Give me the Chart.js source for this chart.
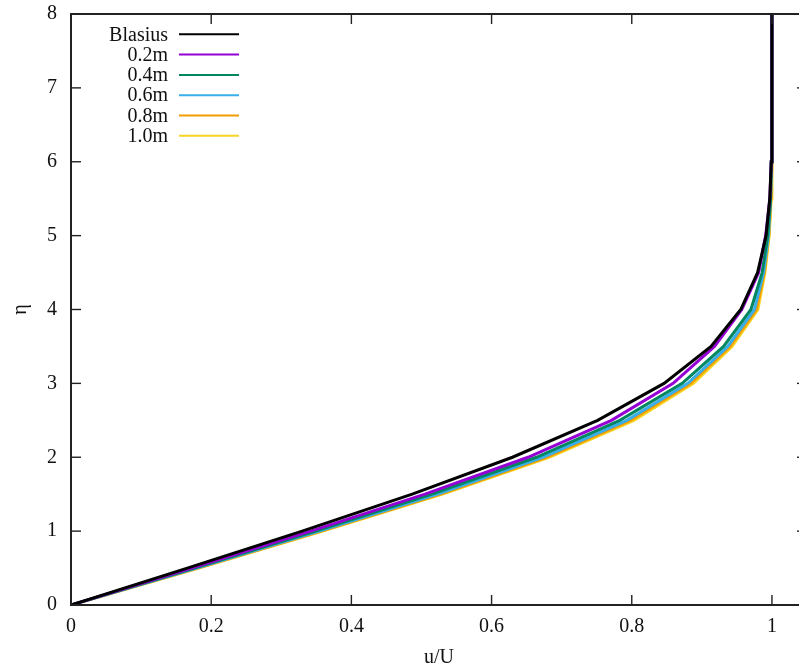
<!DOCTYPE html>
<html>
<head>
<meta charset="utf-8">
<script src="https://cdn.jsdelivr.net/npm/chart.js@4"></script>
<style>
  html, body { margin:0; padding:0; background:#fff; overflow:hidden; }
  #wrap { position:relative; width:812px; height:670px; }
</style>
</head>
<body>
<div id="wrap"><canvas id="profile"></canvas></div>
<script>
// similarity coordinate
const eta = [0, 0.5, 1, 1.5, 2, 2.5, 3, 3.5, 4, 4.5, 5, 5.5, 6, 6.5, 7, 7.5, 8];

// u/U profiles
const blasius = [0, 0.1659, 0.3298, 0.4868, 0.6298, 0.7513, 0.8461, 0.9131, 0.9555, 0.9795, 0.9916, 0.9969, 0.9990, 0.9997, 0.9999, 1.0, 1.0];
const u02 = [0, 0.172, 0.342, 0.505, 0.652, 0.771, 0.859, 0.918, 0.957, 0.981, 0.991, 0.997, 0.999, 1.0, 1.0, 1.0, 1.0];
const u04 = [0, 0.176, 0.349, 0.515, 0.664, 0.783, 0.872, 0.931, 0.970, 0.986, 0.994, 0.998, 0.999, 1.0, 1.0, 1.0, 1.0];
const u06 = [0, 0.179, 0.354, 0.523, 0.673, 0.793, 0.880, 0.937, 0.975, 0.988, 0.995, 0.998, 0.9995, 1.0, 1.0, 1.0, 1.0];
const u08 = [0, 0.181, 0.357, 0.527, 0.678, 0.798, 0.884, 0.940, 0.978, 0.989, 0.9955, 0.9985, 1.0, 1.0, 1.0, 1.0, 1.0];
const u10 = [0, 0.182, 0.359, 0.530, 0.682, 0.803, 0.888, 0.943, 0.980, 0.990, 0.996, 0.999, 1.0, 1.0, 1.0, 1.0, 1.0];

const seriesNames = ['Blasius', '0.2m', '0.4m', '0.6m', '0.8m', '1.0m'];
const seriesData = [blasius, u02, u04, u06, u08, u10];
const seriesColors = ['#000000', '#9400d3', '#00875f', '#38aeea', '#f39c00', '#f8d524'];

const xTicks = [0, 0.2, 0.4, 0.6, 0.8, 1];
const yTicks = [0, 1, 2, 3, 4, 5, 6, 7, 8];

const FONT = "'Liberation Serif', 'Times New Roman', serif";

const datasets = seriesData.map((arr, i) => ({
  label: seriesNames[i],
  data: arr.map((u, k) => ({x: u, y: eta[k]})),
  borderColor: seriesColors[i],
  borderWidth: 3,
  pointRadius: 0,
  tension: 0,
  fill: false
}));

// gnuplot style frame with inward ticks on all four sides, plus key
const framePlugin = {
  id: 'frame',
  afterDraw(chart){
    const {ctx, scales} = chart;
    // frame edges from the scales themselves
    const top = Math.round(scales.y.getPixelForValue(8));
    const bot = Math.round(scales.y.getPixelForValue(0));
    const left = Math.round(scales.x.getPixelForValue(0));
    const right = Math.round(scales.x.getPixelForValue(scales.x.max));
    ctx.save();
    ctx.fillStyle = '#222';
    const tl = 10;
    xTicks.forEach(v => {
      const px = scales.x.getPixelForValue(v);
      ctx.fillRect(px - 0.7, bot - tl, 1.4, tl);
      ctx.fillRect(px - 0.7, top, 1.4, tl);
    });
    yTicks.forEach(v => {
      const py = scales.y.getPixelForValue(v);
      ctx.fillRect(left, py - 0.7, tl, 1.4);
      ctx.fillRect(right - tl, py - 0.7, tl, 1.4);
    });
    ctx.fillRect(left - 1, top - 1, right - left + 2, 2);
    ctx.fillRect(left - 1, bot - 1, right - left + 2, 2);
    ctx.fillRect(left - 1, top - 1, 2, bot - top + 2);
    ctx.fillRect(right - 1, top - 1, 2, bot - top + 2);

    // key: right aligned labels followed by line samples
    ctx.font = '20px ' + FONT;
    ctx.textAlign = 'right';
    ctx.textBaseline = 'middle';
    chart.data.datasets.forEach((ds, i) => {
      const y = top + 20.3 + i * 20.3;
      ctx.fillStyle = '#111';
      ctx.fillText(ds.label, left + 97, y + 1);
      ctx.strokeStyle = ds.borderColor;
      ctx.lineWidth = 2;
      ctx.beginPath();
      ctx.moveTo(left + 108, y);
      ctx.lineTo(left + 168, y);
      ctx.stroke();
    });
    ctx.restore();
  }
};

new Chart(document.getElementById('profile'), {
  type: 'line',
  data: { datasets },
  options: {
    responsive: true,
    maintainAspectRatio: false,
    animation: false,
    layout: { padding: { top: 14, right: 5, left: 0, bottom: 0 } },
    plugins: { legend: { display: false }, tooltip: { enabled: false } },
    scales: {
      x: {
        type: 'linear',
        min: 0, max: 1.05,
        grid: { display: false, drawTicks: false },
        border: { display: false },
        afterBuildTicks: s => { s.ticks = xTicks.map(v => ({value: v})); },
        afterFit: s => { s.height = 65; s.paddingLeft = 0; s.paddingRight = 0; },
        ticks: {
          padding: 10,
          color: '#111',
          font: { family: FONT, size: 20 },
          callback: v => String(+(+v).toFixed(2))
        },
        title: {
          display: true, text: 'u/U', color: '#111',
          font: { family: FONT, size: 20 },
          padding: { top: 2, bottom: 0 }
        }
      },
      y: {
        min: 0, max: 8,
        grid: { display: false, drawTicks: false },
        border: { display: false },
        afterBuildTicks: s => { s.ticks = yTicks.map(v => ({value: v})); },
        afterFit: s => { s.width = 71; s.paddingTop = 0; s.paddingBottom = 0; },
        ticks: {
          padding: 14,
          color: '#111',
          font: { family: FONT, size: 20 }
        },
        title: {
          display: true, text: 'η', color: '#111',
          font: { family: FONT, size: 20 },
          padding: { top: 9, bottom: 0 }
        }
      }
    }
  },
  plugins: [framePlugin]
});
</script>
</body>
</html>
